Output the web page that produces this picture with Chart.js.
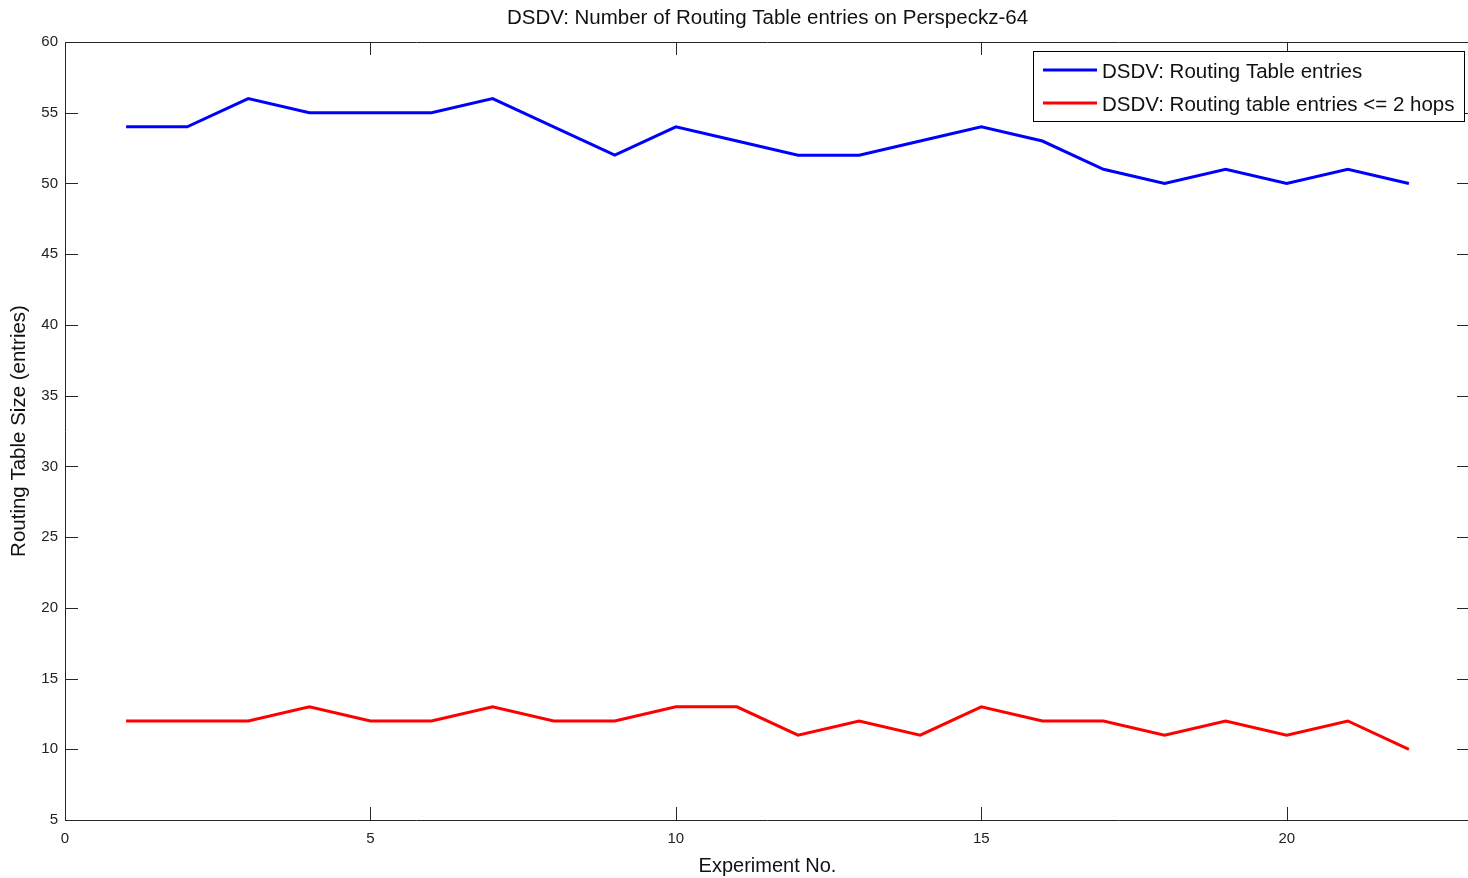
<!DOCTYPE html>
<html>
<head>
<meta charset="utf-8">
<script src="https://cdn.jsdelivr.net/npm/chart.js@4/dist/chart.umd.min.js"></script>
<style>
  html, body { margin: 0; padding: 0; background: #fff; overflow: hidden; }
  #wrap { width: 1470px; height: 878px; position: relative; }
</style>
</head>
<body>
<div id="wrap"><canvas id="c"></canvas></div>
<script>
const experiments = [1,2,3,4,5,6,7,8,9,10,11,12,13,14,15,16,17,18,19,20,21,22];
const routingEntries = [54,54,56,55,55,55,56,54,52,54,53,52,52,53,54,53,51,50,51,50,51,50];
const routingEntries2Hops = [12,12,12,13,12,12,13,12,12,13,13,11,12,11,13,12,12,11,12,11,12,10];
const seriesLabels = ['DSDV: Routing Table entries', 'DSDV: Routing table entries <= 2 hops'];
const chartTitle = 'DSDV: Number of Routing Table entries on Perspeckz-64';
const xTitle = 'Experiment No.';
const yTitle = 'Routing Table Size (entries)';

const FONT = "'Liberation Sans', Arial, sans-serif";
const AXIS_COLOR = '#262626';

const boxTicks = {
  id: 'boxTicks',
  afterDraw(chart) {
    const {ctx, chartArea: a, scales: {x, y}} = chart;
    ctx.save();
    ctx.strokeStyle = AXIS_COLOR;
    ctx.lineWidth = 1;
    ctx.beginPath();
    ctx.rect(Math.round(a.left) + 0.5, Math.round(a.top) + 0.5, Math.round(a.right - a.left) - 1, Math.round(a.bottom - a.top));
    ctx.stroke();
    const L = 13;
    ctx.beginPath();
    x.ticks.forEach(t => {
      if (t.value % 5 !== 0) return;
      const px = Math.round(x.getPixelForValue(t.value)) + 0.5;
      ctx.moveTo(px, a.bottom); ctx.lineTo(px, a.bottom - L);
      ctx.moveTo(px, a.top); ctx.lineTo(px, a.top + L);
    });
    y.ticks.forEach(t => {
      const py = Math.round(y.getPixelForValue(t.value)) + 0.5;
      ctx.moveTo(a.left, py); ctx.lineTo(a.left + L, py);
      ctx.moveTo(a.right, py); ctx.lineTo(a.right - L, py);
    });
    ctx.stroke();
    // title centred over the axes box
    ctx.fillStyle = '#111';
    ctx.font = '20.5px ' + FONT;
    ctx.textAlign = 'center';
    ctx.textBaseline = 'middle';
    ctx.fillText(chartTitle, (a.left + a.right) / 2, 18);
    ctx.restore();
  }
};

const innerLegend = {
  id: 'innerLegend',
  afterDraw(chart) {
    const {ctx} = chart;
    const bx = 1033.5, by = 51.5, bw = 431, bh = 70;
    ctx.save();
    ctx.fillStyle = '#fff';
    ctx.fillRect(bx, by, bw, bh);
    ctx.strokeStyle = '#000';
    ctx.lineWidth = 1;
    ctx.strokeRect(bx, by, bw, bh);
    ctx.font = '20.5px ' + FONT;
    ctx.textBaseline = 'middle';
    chart.data.datasets.forEach((ds, i) => {
      const yy = 70 + i * 33;
      ctx.strokeStyle = ds.borderColor;
      ctx.lineWidth = 3;
      ctx.beginPath();
      ctx.moveTo(1043, yy); ctx.lineTo(1097, yy);
      ctx.stroke();
      ctx.fillStyle = '#111';
      ctx.fillText(ds.label, 1102, yy + 2);
    });
    ctx.restore();
  }
};

new Chart(document.getElementById('c'), {
  type: 'line',
  data: {
    datasets: [
      { label: seriesLabels[0], data: experiments.map((e, i) => ({x: e, y: routingEntries[i]})),
        borderColor: '#0000ff', borderWidth: 3, pointRadius: 0, tension: 0, fill: false },
      { label: seriesLabels[1], data: experiments.map((e, i) => ({x: e, y: routingEntries2Hops[i]})),
        borderColor: '#ff0000', borderWidth: 3, pointRadius: 0, tension: 0, fill: false }
    ]
  },
  options: {
    responsive: true,
    maintainAspectRatio: false,
    animation: false,
    layout: { padding: { left: 0, right: 0, top: 42, bottom: 0 } },
    plugins: {
      legend: { display: false },
      tooltip: { enabled: false },
      title: { display: false }
    },
    scales: {
      x: {
        type: 'linear', min: 0, max: 23,
        grid: { display: false, drawTicks: false },
        border: { display: false },
        ticks: { stepSize: 5, color: '#222', padding: 10, font: { family: FONT, size: 15 }, maxRotation: 0,
                 callback: v => (v % 5 === 0 ? String(v) : '') },
        title: { display: true, text: xTitle, color: '#111', font: { family: FONT, size: 20 }, padding: { top: 0, bottom: 0 } },
        afterFit(s) { s.height = 58; s.paddingRight = 0; }
      },
      y: {
        type: 'linear', min: 5, max: 60,
        grid: { display: false, drawTicks: false },
        border: { display: false },
        ticks: { stepSize: 5, color: '#222', padding: 7, font: { family: FONT, size: 15 } },
        title: { display: true, text: yTitle, color: '#111', font: { family: FONT, size: 20.5 }, padding: { top: 6.7, bottom: 0 } },
        afterFit(s) { s.width = 65; s.paddingTop = 0; s.paddingBottom = 0; }
      }
    }
  },
  plugins: [boxTicks, innerLegend]
});
</script>
</body>
</html>
